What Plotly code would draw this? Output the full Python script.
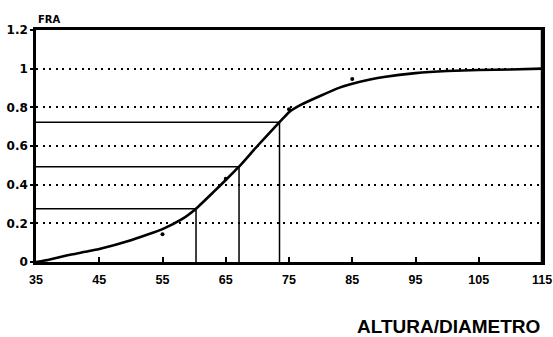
import plotly.graph_objects as go

# CDF curve
curve_x = [35, 37, 40, 45, 50, 55, 58, 60.3, 63, 65, 67.1, 70, 73.5, 75, 77, 80, 83, 85, 88, 90, 95, 100, 105, 110, 115]
curve_y = [0, 0.012, 0.035, 0.067, 0.112, 0.17, 0.22, 0.276, 0.36, 0.424, 0.493, 0.60, 0.723, 0.775, 0.815, 0.86, 0.902, 0.922, 0.945, 0.957, 0.977, 0.988, 0.993, 0.996, 1.0]

# observed points
obs_x = [55, 65, 75, 85]
obs_y = [0.143, 0.43, 0.79, 0.947]

# reference (percentile) lines
ref_x = [60.3, 67.1, 73.5]
ref_y = [0.276, 0.493, 0.723]

x_ticks = [35, 45, 55, 65, 75, 85, 95, 105, 115]
y_ticks = [0, 0.2, 0.4, 0.6, 0.8, 1, 1.2]
y_labels = ["0", "0.2", "0.4", "0.6", "0.8", "1", "1.2"]

fig = go.Figure()

for rx, ry in zip(ref_x, ref_y):
    fig.add_trace(go.Scatter(x=[x_ticks[0], rx, rx], y=[ry, ry, 0], mode="lines",
                             line=dict(color="black", width=1.5), showlegend=False,
                             hoverinfo="skip"))

fig.add_trace(go.Scatter(x=curve_x, y=curve_y, mode="lines",
                         line=dict(color="black", width=2.6, shape="spline", smoothing=0.4),
                         showlegend=False, cliponaxis=False))
fig.add_trace(go.Scatter(x=obs_x, y=obs_y, mode="markers", marker=dict(color="black", size=4),
                         showlegend=False))

xfont = dict(family="Liberation Sans", size=12.5, color="black", weight="bold")
yfont = dict(family="DejaVu Sans", size=12, color="black", weight="bold")

fig.update_layout(
    width=553, height=337,
    margin=dict(l=36, r=11, t=30, b=75),
    paper_bgcolor="white", plot_bgcolor="white",
    font=dict(family="DejaVu Sans", color="black"),
    xaxis=dict(range=[35, 115], tickvals=x_ticks, ticktext=[str(v) for v in x_ticks], automargin=False,
               ticklabeloverflow="allow", ticklabelstandoff=4,
               showgrid=False, zeroline=False, showline=True, mirror=True,
               linecolor="black", linewidth=2.5,
               ticks="inside", ticklen=5, tickwidth=2, tickcolor="black", tickfont=xfont),
    yaxis=dict(range=[0, 1.2], tickvals=y_ticks, ticktext=y_labels, automargin=False,
               ticklabeloverflow="allow",
               showgrid=True, gridcolor="black", gridwidth=2, griddash="2px,4.5px",
               zeroline=False, showline=True, mirror=True, linecolor="black", linewidth=2.5,
               ticks="outside", ticklen=3, tickwidth=2, tickcolor="black", tickfont=yfont),
    shapes=[dict(type="line", xref="paper", yref="paper", x0=1, y0=0, x1=1, y1=1,
                 line=dict(color="black", width=2.5), layer="above")],
    annotations=[
        dict(text="FRA", xref="paper", yref="paper", x=0, y=1, xanchor="left", yanchor="bottom",
             yshift=3, showarrow=False, font=dict(family="DejaVu Sans", size=10, weight="bold", color="black")),
        dict(text="ALTURA/DIAMETRO", xref="paper", yref="paper", x=1, y=0, xanchor="right", yanchor="middle",
             yshift=-64, xshift=0, showarrow=False,
             font=dict(family="Liberation Sans", size=19, weight="bold", color="black")),
    ],
)

fig.write_html("out.html")
